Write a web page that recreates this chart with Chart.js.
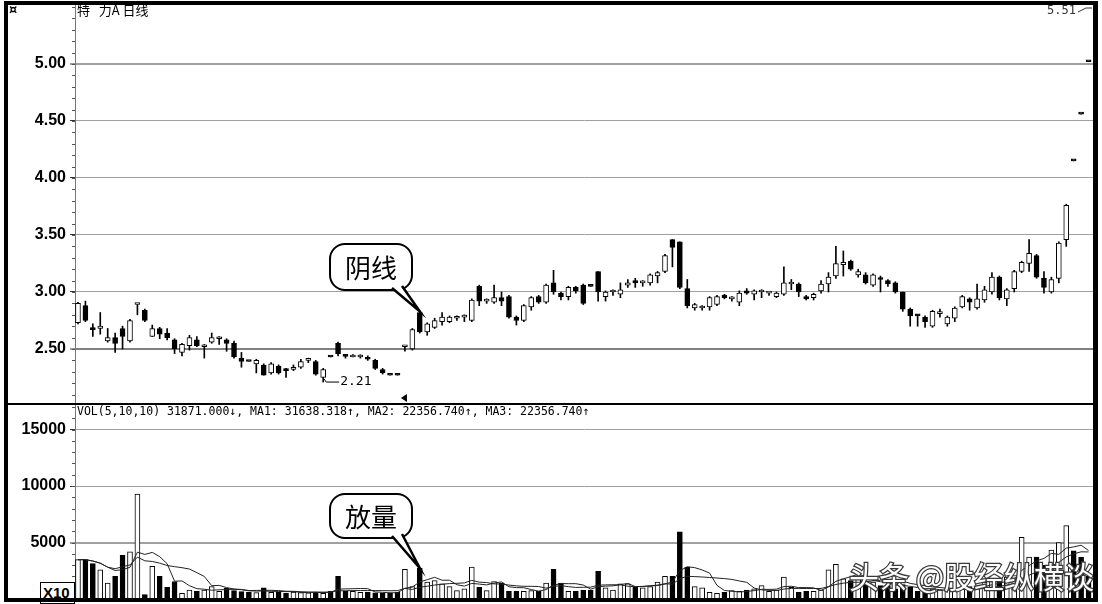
<!DOCTYPE html>
<html>
<head>
<meta charset="utf-8">
<script src="https://cdn.jsdelivr.net/npm/chart.js@4.4.0/dist/chart.umd.min.js"></script>
<style>
body { margin: 0; background: #fff; width: 1102px; height: 604px; overflow: hidden; position: relative; }
canvas { position: absolute; left: 0; }
#price { top: 0; }
#vol { top: 404px; }
.b { position: absolute; background: #000; }
#x10 { position: absolute; left: 40px; top: 582px; width: 31px; height: 20px; border: 1px solid #000; background: #fff;
  font: bold 15px "Liberation Sans"; line-height: 20px; padding-left: 2px; overflow: hidden; }
</style>
</head>
<body>
<canvas id="price" width="1102" height="404" style="width:1102px;height:404px"></canvas>
<canvas id="vol" width="1102" height="200" style="width:1102px;height:200px"></canvas>
<div id="x10">X10</div>
<div class="b" style="left:4px;top:1px;width:1094px;height:4px"></div>
<div class="b" style="left:4px;top:1px;width:4px;height:601px"></div>
<div class="b" style="left:1093px;top:1px;width:5px;height:601px"></div>
<div class="b" style="left:4px;top:598px;width:1094px;height:4px"></div>
<div class="b" style="left:4px;top:403px;width:1094px;height:2px"></div>
<script>
// daily candles
const open = [2.73,2.88,2.68,2.68,2.57,2.60,2.68,2.57,2.89,2.84,
  2.61,2.68,2.64,2.58,2.47,2.53,2.58,2.52,2.56,2.59,
  2.58,2.55,2.42,2.39,2.37,2.36,2.29,2.35,2.32,2.32,
  2.34,2.40,2.39,2.25,2.43,2.55,2.445,2.43,2.43,2.42,
  2.40,2.32,2.27,2.27,2.52,2.50,2.82,2.65,2.69,2.74,
  2.74,2.77,2.78,2.75,3.05,2.92,2.91,2.95,2.96,2.78,
  2.75,2.87,2.96,2.91,3.08,2.99,2.96,3.04,3.06,3.05,
  3.18,2.96,3.00,2.98,3.06,3.10,3.08,3.08,3.14,3.18,
  3.46,3.44,3.03,2.86,2.86,2.87,2.89,2.97,2.94,2.91,
  3.01,2.98,3.00,2.99,2.96,2.98,3.07,3.07,2.96,2.95,
  3.01,3.07,3.14,3.24,3.27,3.15,3.15,3.06,3.12,3.10,
  3.08,3.00,2.85,2.80,2.78,2.70,2.81,2.72,2.77,2.87,
  2.94,2.86,2.93,3.00,3.13,2.94,3.03,3.18,3.25,3.32,
  3.12,3.00,3.12,3.46,4.15,4.56,5.02];
const close = [2.90,2.75,2.67,2.70,2.60,2.55,2.61,2.75,2.89,2.75,
  2.68,2.63,2.60,2.50,2.54,2.60,2.53,2.53,2.60,2.59,
  2.55,2.43,2.39,2.39,2.40,2.27,2.37,2.29,2.31,2.34,
  2.39,2.40,2.28,2.32,2.43,2.46,2.435,2.44,2.43,2.41,
  2.33,2.29,2.27,2.27,2.53,2.67,2.65,2.72,2.75,2.78,
  2.78,2.77,2.78,2.93,2.92,2.92,2.95,2.92,2.78,2.75,
  2.88,2.95,2.91,3.06,3.00,2.96,3.04,3.01,2.90,3.05,
  3.00,3.00,3.00,3.02,3.08,3.08,3.08,3.15,3.17,3.32,
  3.39,3.04,2.88,2.89,2.86,2.95,2.96,2.95,2.94,2.99,
  2.99,3.01,3.00,2.99,2.99,3.08,3.07,3.00,2.94,2.98,
  3.07,3.13,3.25,3.26,3.20,3.18,3.08,3.15,3.11,3.07,
  3.00,2.85,2.79,2.79,2.74,2.83,2.81,2.78,2.86,2.96,
  2.91,2.94,3.02,3.13,2.95,3.02,3.18,3.26,3.34,3.13,
  3.04,3.11,3.43,3.76,4.15,4.56,5.02];
const high = [2.91,2.92,2.72,2.82,2.68,2.64,2.70,2.76,2.89,2.85,
  2.71,2.69,2.68,2.59,2.55,2.62,2.61,2.54,2.64,2.61,
  2.59,2.57,2.47,2.39,2.41,2.37,2.38,2.36,2.33,2.36,
  2.41,2.42,2.40,2.33,2.43,2.56,2.45,2.45,2.45,2.44,
  2.41,2.33,2.27,2.27,2.53,2.68,2.83,2.73,2.77,2.82,
  2.79,2.79,2.80,2.94,3.06,2.94,3.06,3.00,2.97,2.79,
  2.89,2.96,2.97,3.07,3.19,3.00,3.05,3.05,3.07,3.05,
  3.18,3.01,3.02,3.08,3.11,3.12,3.10,3.16,3.18,3.33,
  3.46,3.44,3.11,2.90,2.88,2.96,2.97,2.98,2.96,3.01,
  3.03,3.02,3.02,3.00,3.00,3.22,3.11,3.08,2.97,2.99,
  3.10,3.17,3.40,3.36,3.28,3.20,3.17,3.16,3.14,3.11,
  3.09,3.00,2.86,2.80,2.79,2.84,2.85,2.79,2.87,2.97,
  2.95,3.07,3.05,3.17,3.14,3.03,3.19,3.27,3.46,3.33,
  3.18,3.13,3.44,3.77,4.15,4.56,5.02];
const low = [2.72,2.74,2.61,2.63,2.56,2.47,2.50,2.56,2.80,2.74,
  2.61,2.59,2.58,2.46,2.44,2.49,2.52,2.42,2.55,2.54,
  2.48,2.42,2.34,2.39,2.29,2.27,2.28,2.28,2.25,2.31,
  2.33,2.38,2.27,2.21,2.43,2.44,2.42,2.43,2.42,2.40,
  2.32,2.28,2.27,2.27,2.48,2.49,2.64,2.62,2.68,2.71,
  2.73,2.75,2.74,2.74,2.88,2.90,2.90,2.88,2.77,2.71,
  2.74,2.84,2.90,2.90,2.98,2.93,2.93,2.99,2.89,3.05,
  2.92,2.92,2.97,2.95,3.04,3.04,3.05,3.06,3.08,3.17,
  3.22,3.03,2.86,2.84,2.84,2.84,2.88,2.94,2.92,2.88,
  2.98,2.93,2.95,2.97,2.95,2.97,3.02,2.96,2.93,2.93,
  2.99,3.00,3.12,3.14,3.19,3.13,3.07,3.05,3.00,3.05,
  2.99,2.83,2.70,2.70,2.69,2.69,2.78,2.70,2.74,2.86,
  2.84,2.85,2.91,2.98,2.93,2.88,3.00,3.17,3.18,3.12,
  2.99,2.99,3.08,3.40,4.15,4.56,5.02];
const volume = [3480,3480,3130,2590,1400,2000,3870,4170,9290,390,
  2900,2000,1040,1550,500,800,680,800,1100,680,
  950,740,650,600,570,980,600,600,500,620,
  570,540,620,500,680,2000,680,680,600,620,
  540,500,500,600,2620,1100,2740,1490,1640,1340,
  1100,740,890,2830,1040,740,1550,1400,680,680,
  680,740,680,1400,2620,1400,680,680,800,800,
  2440,980,800,1340,1340,1040,980,1100,1490,2000,
  2000,5950,2830,1100,980,600,500,600,740,680,
  800,890,1190,680,800,1930,1040,600,680,680,
  800,2590,3070,1790,1640,1930,1400,1490,1190,1190,
  890,1280,1040,680,680,890,800,890,800,890,
  1100,1190,1490,1640,1550,1930,2080,5450,3720,3720,
  2980,4320,5000,6490,4260,3720,2000];
const days = open.map((_, i) => i);
const priceTicks = [2.5, 3.0, 3.5, 4.0, 4.5, 5.0];
const volTicks = [5000, 10000, 15000];

// hollow for rising days; one-price days (high == low) drawn solid
const up = days.map(i => close[i] > open[i] || (close[i] === open[i] && high[i] > low[i]));

function movingAvg(arr, n) {
    return arr.map((_, i) => {
        const part = arr.slice(Math.max(0, i - n + 1), i + 1);
        return part.reduce((a, b) => a + b, 0) / part.length;
    });
}
const ma5 = movingAvg(volume, 5);
const ma10 = movingAvg(volume, 10);

const xScale = {type: 'linear', min: -0.4, max: 136.6, offset: false, display: false, grid: {offset: false}};
const labelFont = {family: 'Liberation Sans', size: 16, weight: 'bold'};

// keep the plot area fixed: y axis 75px wide, no extra label padding
function fixAxis(s) {
    s.width = 75;
    s.paddingTop = 0;
    s.paddingBottom = 0;
}

function bubble(ctx, x, y, w, h, tipX, tipY, text) {
    ctx.save();
    ctx.lineWidth = 2;
    ctx.strokeStyle = '#000';
    ctx.fillStyle = '#fff';
    ctx.beginPath();
    ctx.roundRect(x, y, w, h, 15);
    ctx.fill();
    ctx.stroke();
    const bx1 = x + w - 20, bx2 = x + w - 10, by = y + h - 3;
    ctx.beginPath();
    ctx.moveTo(bx1, by);
    ctx.lineTo(tipX, tipY);
    ctx.lineTo(bx2, by - 2);
    ctx.closePath();
    ctx.fill();
    ctx.beginPath();
    ctx.moveTo(bx1, by + 1);
    ctx.lineTo(tipX, tipY);
    ctx.lineTo(bx2, by - 1);
    ctx.lineWidth = 2.5;
    ctx.stroke();
    ctx.fillStyle = '#000';
    ctx.font = '26px "Noto Sans CJK SC"';
    ctx.textAlign = 'center';
    ctx.textBaseline = 'middle';
    ctx.fillText(text, x + w / 2, y + h / 2 + 1);
    ctx.restore();
}

function minorTicks(chart, step, from, to) {
    const ctx = chart.ctx, ys = chart.scales.y;
    ctx.save();
    ctx.strokeStyle = '#555';
    ctx.lineWidth = 1;
    for (let v = from; v <= to + 1e-9; v += step) {
        const y = Math.round(ys.getPixelForValue(v)) + 0.5;
        ctx.beginPath();
        ctx.moveTo(72, y);
        ctx.lineTo(75, y);
        ctx.stroke();
    }
    ctx.restore();
}

const pricePlugin = {
    id: 'priceExtras',
    afterDraw(chart) {
        const ctx = chart.ctx, xs = chart.scales.x, ys = chart.scales.y;
        minorTicks(chart, 0.1, 2.1, 5.5);
        ctx.save();
        ctx.fillStyle = '#000';
        ctx.textBaseline = 'top';
        ctx.font = 'bold 13px "DejaVu Sans"';
        ctx.fillText('¤', 9, 4);
        ctx.font = '13px "Noto Sans CJK SC"';
        ctx.fillText('特   力A 日线', 77, 4);
        ctx.fillStyle = '#333';
        ctx.font = '12px "DejaVu Sans Mono"';
        ctx.fillText('5.51', 1047, 5);
        ctx.strokeStyle = '#333';
        ctx.beginPath();
        ctx.moveTo(1078, 12);
        ctx.lineTo(1086, 8);
        ctx.lineTo(1092, 8);
        ctx.stroke();

        // lowest point marker
        const lx = xs.getPixelForValue(33), ly = ys.getPixelForValue(low[33]);
        ctx.strokeStyle = '#000';
        ctx.beginPath();
        ctx.moveTo(lx + 1, ly - 3);
        ctx.lineTo(lx + 3, ly);
        ctx.lineTo(lx + 16, ly);
        ctx.stroke();
        ctx.fillStyle = '#000';
        ctx.textBaseline = 'middle';
        ctx.font = '13px "DejaVu Sans Mono"';
        ctx.fillText(low[33].toFixed(2), lx + 17, ly);

        // resume marker
        const mx = xs.getPixelForValue(44) - 1;
        ctx.beginPath();
        ctx.moveTo(mx - 3, 398);
        ctx.lineTo(mx + 3, 394);
        ctx.lineTo(mx + 3, 402);
        ctx.closePath();
        ctx.fill();
        ctx.restore();

        bubble(ctx, 330, 244, 82, 46, xs.getPixelForValue(46), ys.getPixelForValue(high[46]), '阴线');
    }
};

const volPlugin = {
    id: 'volExtras',
    afterDraw(chart) {
        const ctx = chart.ctx, xs = chart.scales.x, ys = chart.scales.y;
        minorTicks(chart, 1000, 1000, 17000);
        ctx.save();
        ctx.fillStyle = '#000';
        ctx.textBaseline = 'top';
        ctx.font = '11.5px "DejaVu Sans Mono"';
        ctx.fillText('VOL(5,10,10) 31871.000↓, MA1: 31638.318↑, MA2: 22356.740↑, MA3: 22356.740↑', 77, 2);
        ctx.restore();

        bubble(ctx, 330, 90, 82, 44, xs.getPixelForValue(46), ys.getPixelForValue(volume[46]), '放量');

        ctx.save();
        ctx.font = '30px "Noto Sans CJK SC"';
        ctx.textBaseline = 'alphabetic';
        ctx.lineWidth = 2.5;
        ctx.strokeStyle = '#3a3a3a';
        ctx.strokeText('头条 @股经纵横谈', 849, 184);
        ctx.fillStyle = '#fff';
        ctx.fillText('头条 @股经纵横谈', 849, 184);
        ctx.restore();
    }
};

const priceChart = new Chart(document.getElementById('price'), {
    type: 'bar',
    data: {
        datasets: [{
            label: 'body',
            data: days.map(i => ({x: i, y: [open[i], close[i]]})),
            backgroundColor: up.map(u => u ? '#fff' : '#000'),
            borderColor: '#000',
            borderWidth: 1,
            borderSkipped: false,
            barThickness: 5,
            minBarLength: 2,
            grouped: false
        }, {
            label: 'wick',
            data: days.map(i => ({x: i, y: [low[i], high[i]]})),
            backgroundColor: '#000',
            barThickness: 1,
            grouped: false
        }]
    },
    options: {
        responsive: false,
        animation: false,
        events: [],
        layout: {padding: {left: 0, right: 9, top: 5, bottom: 0}},
        plugins: {legend: {display: false}, tooltip: {enabled: false}},
        scales: {
            x: xScale,
            y: {
                min: 2.0175,
                max: 5.5175,
                afterBuildTicks: s => { s.ticks = priceTicks.map(v => ({value: v})); },
                afterFit: fixAxis,
                ticks: {color: '#000', font: labelFont, padding: 4, callback: v => v.toFixed(2)},
                grid: {
                    color: c => c.tick && c.tick.value === 2.5 ? '#808080' : '#a0a0a0',
                    lineWidth: c => c.tick && (c.tick.value === 2.5 || c.tick.value === 5) ? 2 : 1,
                    tickLength: 5,
                    tickColor: '#333',
                    tickWidth: 1
                },
                border: {color: '#777', width: 1}
            }
        }
    },
    plugins: [pricePlugin]
});

const volChart = new Chart(document.getElementById('vol'), {
    type: 'bar',
    data: {
        datasets: [{
            type: 'line',
            label: 'MA5',
            data: days.map(i => ({x: i, y: ma5[i]})),
            borderColor: '#222',
            borderWidth: 1,
            pointRadius: 0
        }, {
            type: 'line',
            label: 'MA10',
            data: days.map(i => ({x: i, y: ma10[i]})),
            borderColor: '#222',
            borderWidth: 1,
            pointRadius: 0
        }, {
            label: 'VOL',
            data: days.map(i => ({x: i, y: volume[i]})),
            backgroundColor: up.map(u => u ? '#fff' : '#000'),
            borderColor: '#000',
            borderWidth: 1,
            borderSkipped: false,
            barThickness: 5,
            grouped: false
        }]
    },
    options: {
        responsive: false,
        animation: false,
        events: [],
        layout: {padding: {left: 0, right: 9, top: 0, bottom: 5}},
        plugins: {legend: {display: false}, tooltip: {enabled: false}},
        scales: {
            x: xScale,
            y: {
                min: 0,
                max: 17257,
                afterBuildTicks: s => { s.ticks = volTicks.map(v => ({value: v})); },
                afterFit: fixAxis,
                ticks: {color: '#000', font: labelFont, padding: 4, callback: v => String(v)},
                grid: {
                    color: '#a0a0a0',
                    lineWidth: c => c.tick && c.tick.value === 5000 ? 2 : 1,
                    tickLength: 5,
                    tickColor: '#333',
                    tickWidth: 1
                },
                border: {color: '#777', width: 1}
            }
        }
    },
    plugins: [volPlugin]
});
</script>
</body>
</html>
